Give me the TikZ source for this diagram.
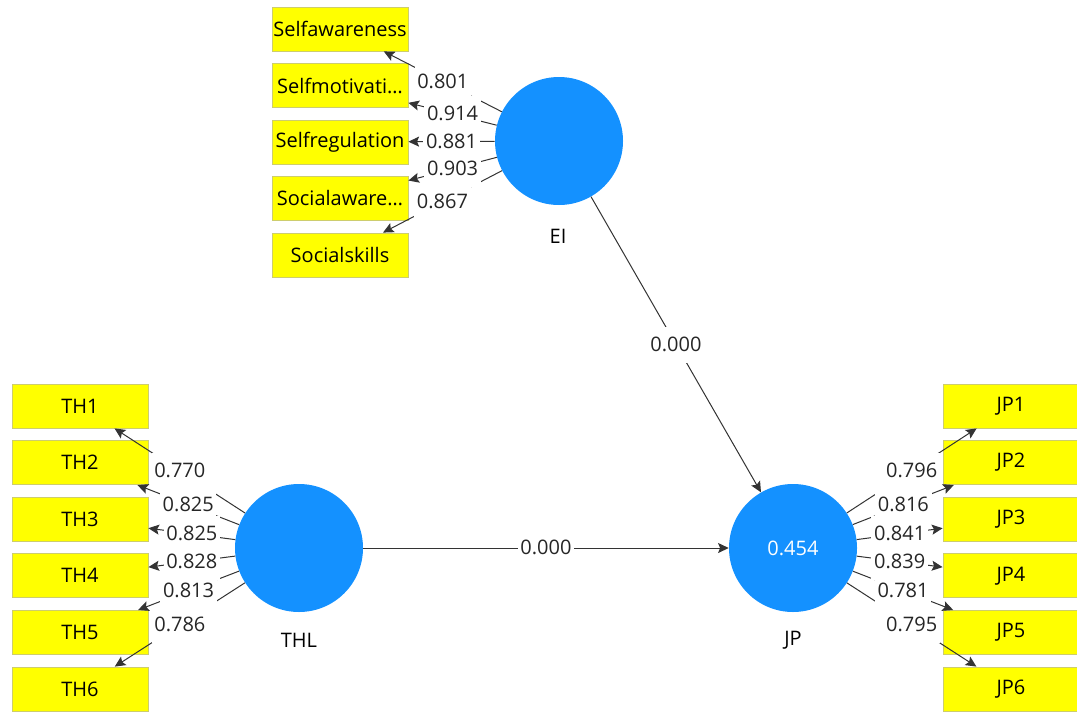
\documentclass[tikz,border=0pt]{standalone}
\usepackage{fontspec}
\setmainfont{Open Sans}
\usetikzlibrary{arrows.meta,positioning}
\definecolor{lvblue}{RGB}{20,145,255}
\definecolor{mvyellow}{RGB}{255,255,0}
\definecolor{mvborder}{RGB}{205,205,110}

\begin{document}
\begin{tikzpicture}[x=0.75pt,y=-0.75pt,
    font=\fontsize{15}{18}\selectfont,
    latent/.style={circle,fill=lvblue,minimum size=96pt,inner sep=0pt},
    indicator/.style={rectangle,fill=mvyellow,draw=mvborder,line width=0.6pt,
      minimum width=102pt,minimum height=33pt,inner sep=0pt},
    link/.style={draw=black!80,line width=0.75pt,
      -{Stealth[length=8pt,width=7.5pt,inset=1.5pt]}},
    coef/.style={fill=white,inner xsep=2pt,inner ysep=0.5pt,
      text height=18pt,text depth=8pt,text=black!85}]
  \useasboundingbox (0,0) rectangle (1077,711);

  % latent variables
  \node[latent] (EI) at (559,141) {};
  \node[latent] (THL) at (299,548) {};
  \node[latent,text=white] (JP) at (793,548) {0.454};
  \node (EIname) at (558,236) {EI};
  \node (THLname) at (299,640) {THL};
  \node (JPname) at (793,640) {JP};

  % indicators
  \foreach \name/\txt [count=\i] in {sa/Selfawareness,sm/Selfmotivati\ldots,
      sr/Selfregulation,soa/Socialaware\ldots,ss/Socialskills}
    \node[indicator] (\name) at (340,{29+56.5*(\i-1)}) {\txt};
  \foreach \i in {1,...,6} {
    \node[indicator] (TH\i) at (80,{406+56.6*(\i-1)}) {TH\i};
    \node[indicator] (JP\i) at (1011,{406+56.6*(\i-1)}) {JP\i};
  }

  % loadings and paths
  \foreach \name in {sa,sm,sr,soa,ss}
    \draw[link] (EI) -- (\name);
  \foreach \i in {1,...,6} {
    \draw[link] (THL) -- (TH\i);
    \draw[link] (JP) -- (JP\i);
  }
  \draw[link] (EI) -- (JP);
  \draw[link] (THL) -- (JP);

  % coefficients on top
  \foreach \name/\val in {sa/0.801,sm/0.914,sr/0.881,soa/0.903,ss/0.867}
    \path (EI) -- (\name) node[coef,midway] {\val};
  \foreach \i/\val in {1/0.770,2/0.825,3/0.825,4/0.828,5/0.813,6/0.786}
    \path (THL) -- (TH\i) node[coef,midway] {\val};
  \foreach \i/\val in {1/0.796,2/0.816,3/0.841,4/0.839,5/0.781,6/0.795}
    \path (JP) -- (JP\i) node[coef,midway] {\val};
  \path (EI) -- (JP) node[coef,midway] {0.000};
  \path (THL) -- (JP) node[coef,midway] {0.000};
\end{tikzpicture}
\end{document}
